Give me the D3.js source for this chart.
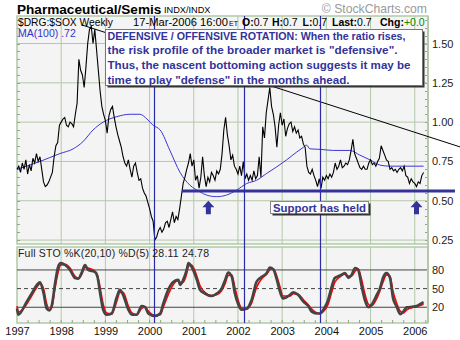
<!DOCTYPE html>
<html>
<head>
<meta charset="utf-8">
<script src="https://cdn.jsdelivr.net/npm/d3@7"></script>
<style>
  html, body { margin: 0; padding: 0; background: #ffffff; }
  svg { display: block; font-family: "Liberation Sans", Arial, sans-serif; }
</style>
</head>
<body>
<svg id="chart" width="460" height="340"></svg>
<script>
// ---- Weekly $DRG:$SOX ratio, sampled every 0.04 year from 1997.00 ----
const ratioStart = 1997.0;
const ratioStep = 0.04;
const ratioValues = [
  // 1997
  0.70,0.72,0.68,0.74,0.70,0.76,0.67,0.73,0.69,0.77,0.74,0.80,0.75,0.78,0.70,0.62,0.59,0.60,0.62,0.65,0.68,0.78,0.85,0.87,0.98,
  // 1998
  1.00,1.02,1.03,0.98,0.97,1.00,0.99,0.97,1.05,1.12,1.40,1.33,1.30,1.22,1.35,1.50,1.59,1.61,1.50,1.59,1.46,1.33,1.20,1.10,1.05,
  // 1999
  1.01,0.93,1.04,1.08,1.10,1.03,0.97,0.92,0.88,0.84,0.78,0.74,0.72,0.76,0.70,0.65,0.72,0.74,0.68,0.63,0.64,0.58,0.55,0.53,0.49,
  // 2000
  0.45,0.40,0.37,0.25,0.27,0.31,0.33,0.30,0.32,0.36,0.37,0.33,0.38,0.43,0.36,0.40,0.38,0.45,0.53,0.61,0.65,0.70,0.74,0.80,0.72,
  // 2001
  0.76,0.63,0.66,0.58,0.65,0.78,0.66,0.59,0.65,0.62,0.68,0.66,0.63,0.69,0.67,0.70,0.80,0.95,1.03,0.92,0.85,0.76,0.79,0.72,0.70,
  // 2002
  0.67,0.72,0.66,0.75,0.64,0.67,0.63,0.66,0.63,0.69,0.64,0.66,0.78,0.65,0.97,0.90,1.06,1.14,1.22,1.10,1.05,0.97,0.84,0.98,1.06,
  // 2003
  0.98,1.02,0.91,0.96,0.99,1.00,0.94,0.97,0.93,0.95,0.90,0.91,0.86,0.84,0.72,0.68,0.67,0.70,0.66,0.63,0.59,0.64,0.58,0.65,0.63,
  // 2004
  0.66,0.64,0.67,0.65,0.68,0.74,0.70,0.72,0.76,0.71,0.72,0.74,0.73,0.76,0.82,0.89,0.80,0.77,0.74,0.71,0.70,0.72,0.70,0.70,0.74,
  // 2005
  0.76,0.73,0.74,0.72,0.75,0.77,0.85,0.82,0.79,0.76,0.75,0.70,0.71,0.69,0.70,0.68,0.70,0.71,0.69,0.72,0.66,0.65,0.61,0.64,0.62,
  // 2006
  0.61,0.59,0.62,0.61,0.66,0.68
];

// ---- 100-week moving average ----
const maTimes  = [1997.00,1997.52,1997.97,1998.27,1998.49,1998.72,1998.95,1999.26,1999.56,1999.78,1999.94,2000.08,2000.24,2000.46,2000.69,2000.91,2001.14,2001.29,2001.52,2001.74,2001.97,2002.20,2002.42,2002.65,2002.88,2003.10,2003.33,2003.48,2003.55,2003.63,2003.86,2004.16,2004.53,2004.76,2004.99,2005.21,2005.44,2006.20];
const maValues = [0.70,0.75,0.80,0.83,0.875,0.95,1.00,1.035,1.05,1.05,1.02,0.98,0.95,0.82,0.68,0.60,0.557,0.536,0.526,0.536,0.568,0.61,0.63,0.674,0.716,0.76,0.81,0.84,0.854,0.83,0.827,0.82,0.82,0.79,0.76,0.727,0.72,0.72];

// ---- Full stochastics %K(20,10) and %D(5) ----
const stoTimes = [1997.00,1997.03,1997.22,1997.33,1997.45,1997.52,1997.60,1997.67,1997.73,1997.79,1997.86,1997.93,1997.99,1998.09,1998.20,1998.31,1998.39,1998.46,1998.54,1998.61,1998.76,1998.82,1998.88,1998.95,1999.03,1999.14,1999.26,1999.33,1999.40,1999.52,1999.60,1999.71,1999.82,1999.90,1999.97,2000.12,2000.24,2000.31,2000.42,2000.54,2000.65,2000.69,2000.76,2000.84,2000.88,2000.95,2001.07,2001.14,2001.25,2001.40,2001.52,2001.63,2001.71,2001.78,2001.86,2001.93,2002.01,2002.08,2002.20,2002.31,2002.42,2002.54,2002.65,2002.72,2002.80,2002.88,2002.95,2003.02,2003.18,2003.25,2003.36,2003.48,2003.59,2003.67,2003.78,2003.86,2003.93,2004.04,2004.12,2004.19,2004.31,2004.42,2004.50,2004.57,2004.65,2004.72,2004.80,2004.87,2004.95,2005.02,2005.14,2005.21,2005.29,2005.36,2005.44,2005.51,2005.59,2005.67,2005.74,2005.82,2005.97,2006.04,2006.12,2006.20];
const stoK = [18,8,29,42,56,60,43,18,15,24,58,85,91,88,80,67,66,75,88,80,77,69,43,16,8,10,37,48,40,16,8,8,22,20,10,6,10,26,48,61,64,56,64,80,91,85,64,48,42,38,42,50,64,76,69,42,24,16,18,32,61,69,75,84,81,64,45,34,40,44,40,29,22,13,10,10,16,32,53,67,71,75,67,72,83,80,53,32,20,24,40,50,69,75,67,34,21,9,13,20,21,22,25,28.11];
const stoD = [22,12,25,38,52,58,50,26,16,20,50,76,88,89,83,70,66,72,84,83,78,72,52,25,11,9,30,44,44,22,11,8,18,21,14,7,8,20,40,57,63,60,60,74,86,88,70,55,44,39,40,47,58,71,72,52,30,19,17,27,52,66,73,80,82,70,53,38,38,42,41,32,24,17,11,10,13,25,44,60,69,73,70,70,78,82,64,42,25,22,34,46,62,72,70,45,27,14,11,16,20,21,23,24.78];

// ---- Axes and reference levels ----
const yearTicks   = [1997,1998,1999,2000,2001,2002,2003,2004,2005,2006];
const priceTicks  = [0.25,0.50,0.75,1.00,1.25,1.50];
const stoLevels   = [80,50,20];
const markerDates = [2000.11,2002.14,2003.86];
const supportLevel = 0.562, supportFrom = 2000.73, supportTo = 2006.91;
const trendStart = [1998.47,1.618], trendEnd = [2007.03,0.842];
const arrowDates = [2001.33,2006.04], arrowTip = 0.50;
const noteLines = [
  'DEFENSIVE / OFFENSIVE ROTATION: When the ratio rises,',
  'the risk profile of the broader market is "defensive".',
  'Thus, the nascent bottoming action suggests it may be',
  'time to play "defense" in the months ahead.'
];
const noteWidths = [298,290,303,242];

// ---- Layout ----
const left = 17, right = 428;
const mainTop = 16, mainBottom = 244;
const stoTop = 247, stoBottom = 323;
const grid = "#b3c9a9", navy = "#333399", bg = "#f4f4f4";

const svg = d3.select("#chart");
const x  = d3.scaleLinear().domain([1997, 2006.3]).range([left, right]);
const y  = d3.scaleLinear().domain([0.225, 1.675]).range([mainBottom, mainTop]);
const yS = d3.scaleLinear().domain([0, 100]).range([319.7, 257.5]);

const ratio = ratioValues.map((v, i) => ({t: ratioStart + i * ratioStep, v}));
const ma = maTimes.map((t, i) => ({t, v: maValues[i]}));
const sto = stoTimes.map((t, i) => ({t, k: stoK[i], d: stoD[i]}));

// Panels
svg.append("rect").attr("x", left).attr("y", mainTop).attr("width", right - left).attr("height", mainBottom - mainTop)
  .attr("fill", bg).attr("stroke", grid).attr("stroke-width", 1.5);
svg.append("rect").attr("x", left).attr("y", stoTop).attr("width", right - left).attr("height", stoBottom - stoTop)
  .attr("fill", bg).attr("stroke", grid).attr("stroke-width", 1.5);

// Year grid in both panels
const gYears = svg.append("g").attr("stroke", grid).attr("stroke-width", 1);
yearTicks.slice(1).forEach(t => {
  gYears.append("line").attr("x1", x(t)).attr("x2", x(t)).attr("y1", mainTop).attr("y2", mainBottom);
  gYears.append("line").attr("x1", x(t)).attr("x2", x(t)).attr("y1", stoTop).attr("y2", stoBottom);
});

// Price grid
svg.append("g").selectAll("line").data(priceTicks).join("line")
  .attr("x1", left).attr("x2", right).attr("y1", d => y(d)).attr("y2", d => y(d))
  .attr("stroke", grid).attr("stroke-width", 1);

// Minor ticks on both vertical edges of the price panel
const minor = d3.range(0.25, 1.66, 0.05);
svg.append("g").selectAll("line").data(minor).join("line")
  .attr("x1", left).attr("x2", left + 3).attr("y1", d => Math.round(y(d)) + 0.5).attr("y2", d => Math.round(y(d)) + 0.5)
  .attr("stroke", "#8fa887");
svg.append("g").selectAll("line").data(minor).join("line")
  .attr("x1", right - 3).attr("x2", right).attr("y1", d => Math.round(y(d)) + 0.5).attr("y2", d => Math.round(y(d)) + 0.5)
  .attr("stroke", "#8fa887");

// Quarterly ticks along the time axis
const quarters = d3.range(1997.25, 2006.3, 0.25);
svg.append("g").selectAll("line").data(quarters).join("line")
  .attr("x1", d => x(d)).attr("x2", d => x(d)).attr("y1", stoBottom - 3).attr("y2", stoBottom)
  .attr("stroke", "#8fa887");

// Right-hand price axis
const yAxis = svg.append("g").attr("transform", `translate(${right},0)`)
  .call(d3.axisRight(y).tickValues(priceTicks).tickFormat(d3.format(".2f")).tickSize(0).tickPadding(4));
yAxis.select(".domain").remove();
yAxis.selectAll("text").attr("font-size", 11).attr("fill", "#222").attr("font-family", "Liberation Sans, Arial, sans-serif");

// Stochastic levels
stoLevels.forEach(l => {
  svg.append("line").attr("x1", left).attr("x2", right).attr("y1", yS(l)).attr("y2", yS(l))
    .attr("stroke", "#444").attr("stroke-width", 1)
    .attr("stroke-dasharray", l === 50 ? "4,3" : null);
});
const sAxis = svg.append("g").attr("transform", `translate(${right},0)`)
  .call(d3.axisRight(yS).tickValues(stoLevels).tickSize(0).tickPadding(4));
sAxis.select(".domain").remove();
sAxis.selectAll("text").attr("font-size", 11).attr("fill", "#222").attr("font-family", "Liberation Sans, Arial, sans-serif");

// Right frame line
svg.append("line").attr("x1", right).attr("x2", right).attr("y1", mainTop).attr("y2", stoBottom)
  .attr("stroke", grid).attr("stroke-width", 2);

// Time axis labels
const xAxis = svg.append("g").attr("transform", `translate(0,${stoBottom})`)
  .call(d3.axisBottom(x).tickValues(yearTicks).tickFormat(d3.format("d")).tickSize(0).tickPadding(4));
xAxis.select(".domain").remove();
xAxis.selectAll("text").attr("font-size", 11).attr("fill", "#111").attr("font-family", "Liberation Sans, Arial, sans-serif");

// Moving average and ratio lines
svg.append("path").datum(ma)
  .attr("d", d3.line().x(d => x(d.t)).y(d => y(d.v)).curve(d3.curveMonotoneX))
  .attr("fill", "none").attr("stroke", "#3a36d8").attr("stroke-width", 1);
svg.append("path").datum(ratio)
  .attr("d", d3.line().x(d => x(d.t)).y(d => y(d.v)))
  .attr("fill", "none").attr("stroke", "#000").attr("stroke-width", 1.1);

// Stochastic lines
svg.append("path").datum(sto)
  .attr("d", d3.line().x(d => x(d.t)).y(d => yS(d.d)).curve(d3.curveMonotoneX))
  .attr("fill", "none").attr("stroke", "#ff0000").attr("stroke-width", 1.6);
svg.append("path").datum(sto)
  .attr("d", d3.line().x(d => x(d.t)).y(d => yS(d.k)).curve(d3.curveMonotoneX))
  .attr("fill", "none").attr("stroke", "#444").attr("stroke-width", 2.6);

// Trendline
svg.append("line")
  .attr("x1", x(trendStart[0])).attr("y1", y(trendStart[1]))
  .attr("x2", x(trendEnd[0])).attr("y2", y(trendEnd[1]))
  .attr("stroke", "#000").attr("stroke-width", 1);

// Support level
svg.append("line")
  .attr("x1", x(supportFrom)).attr("x2", x(supportTo))
  .attr("y1", y(supportLevel)).attr("y2", y(supportLevel))
  .attr("stroke", navy).attr("stroke-width", 3);

// Vertical date markers through both panels
svg.append("g").selectAll("line").data(markerDates).join("line")
  .attr("x1", d => Math.round(x(d)) + 0.5).attr("x2", d => Math.round(x(d)) + 0.5)
  .attr("y1", mainTop).attr("y2", stoBottom)
  .attr("stroke", "#2b2ba6").attr("stroke-width", 1.2);

// Up arrows at the lows
arrowDates.forEach(t => {
  const cx = x(t), ty = y(arrowTip);
  svg.append("path")
    .attr("d", `M${cx},${ty} L${cx + 6},${ty + 6.5} L${cx + 2.5},${ty + 6.5} L${cx + 2.5},${ty + 13.5} L${cx - 2.5},${ty + 13.5} L${cx - 2.5},${ty + 6.5} L${cx - 6},${ty + 6.5} Z`)
    .attr("fill", navy);
});

// Callout: "Support has held"
svg.append("rect").attr("x", 272.5).attr("y", 203.5).attr("width", 98).attr("height", 12).attr("fill", "#333");
svg.append("rect").attr("x", 270.5).attr("y", 201.5).attr("width", 98).attr("height", 12)
  .attr("fill", "#fff").attr("stroke", "#888").attr("stroke-width", 1);
svg.append("text").attr("x", 273).attr("y", 212.3).attr("font-size", 11.5).attr("font-weight", "bold")
  .attr("fill", navy).attr("textLength", 93).attr("lengthAdjust", "spacingAndGlyphs").text("Support has held");

// Commentary box
svg.append("rect").attr("x", 107.5).attr("y", 31.5).attr("width", 317).attr("height", 56).attr("fill", "#333");
svg.append("rect").attr("x", 105.5).attr("y", 29.5).attr("width", 317).attr("height", 56)
  .attr("fill", "#fff").attr("stroke", "#777").attr("stroke-width", 1);
noteLines.forEach((s, i) => {
  svg.append("text").attr("x", 107.5).attr("y", 39.5 + i * 14.8)
    .attr("font-size", 11.5).attr("font-weight", "bold").attr("fill", navy)
    .attr("textLength", noteWidths[i]).attr("lengthAdjust", "spacingAndGlyphs").text(s);
});

// Title line
svg.append("text").attr("x", 17).attr("y", 13.5).attr("font-size", 13.6).attr("font-weight", "bold")
  .attr("fill", "#000").text("Pharmaceutical/Semis");
svg.append("text").attr("x", 164).attr("y", 12.5).attr("font-size", 9.2).attr("fill", "#000")
  .text("INDX/INDX");
svg.append("text").attr("x", 427).attr("y", 12.5).attr("text-anchor", "end").attr("font-size", 12.2)
  .attr("fill", "#9a9a9a").text("© StockCharts.com");

// Header row inside the price panel
const hdr = svg.append("g").attr("font-size", 10.5).attr("fill", "#000");
hdr.append("text").attr("x", 18).attr("y", 26).attr("textLength", 95).attr("lengthAdjust", "spacingAndGlyphs").text("$DRG:$SOX Weekly");
hdr.append("text").attr("x", 133).attr("y", 26).attr("textLength", 95).attr("lengthAdjust", "spacingAndGlyphs").text("17-Mar-2006 16:00");
hdr.append("text").attr("x", 229).attr("y", 26).attr("font-size", 7).text("ET");
const quote = [["O:", "0.7", 242], ["H:", "0.7", 272], ["L:", "0.7", 302.5], ["Last:", "0.7", 332], ["Chg:", "+0.0", 380]];
quote.forEach(([k, v, px]) => {
  const t = hdr.append("text").attr("x", px).attr("y", 26);
  t.append("tspan").attr("font-weight", "bold").text(k);
  t.append("tspan").attr("fill", k === "Chg:" ? "#008a00" : "#000").text(v);
});
svg.append("text").attr("x", 18).attr("y", 37).attr("font-size", 10.5).attr("fill", "#3333cc").text("MA(100) .72");

// Stochastics legend
svg.append("text").attr("x", 18).attr("y", 256.5).attr("font-size", 10.5).attr("fill", "#222")
  .attr("textLength", 191).attr("lengthAdjust", "spacing").text("Full STO %K(20,10) %D(5) 28.11 24.78");
</script>
</body>
</html>
